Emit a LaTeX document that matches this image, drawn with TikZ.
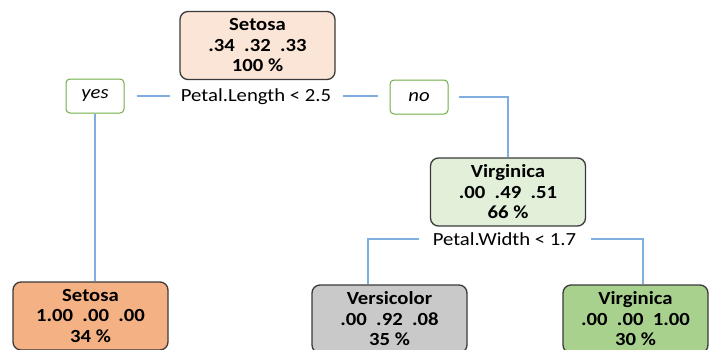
\documentclass[tikz,border=0pt]{standalone}
\usepackage{fontspec}
\setmainfont[FakeStretch=1.12]{Carlito}
\definecolor{rootfill}{HTML}{FBE5D6}
\definecolor{midfill}{HTML}{E2F0D9}
\definecolor{setfill}{HTML}{F4B183}
\definecolor{versfill}{HTML}{C9C9C9}
\definecolor{virgfill}{HTML}{A9D18E}
\definecolor{boxline}{HTML}{3A3A3A}
\definecolor{answergreen}{HTML}{70AD47}
\definecolor{edgeblue}{HTML}{7FAEE0}

\begin{document}
\begin{tikzpicture}[x=1pt,y=-1pt,
    leaf/.style={draw=boxline,line width=1.3pt,rounded corners=8pt,minimum width=155pt,minimum height=68pt,inner sep=0pt,align=center,font=\fontsize{18.5}{20.5}\selectfont\bfseries},
    answer/.style={draw=answergreen,line width=1pt,rounded corners=4pt,minimum width=58pt,minimum height=34pt,inner sep=0pt,font=\fontsize{18.5}{20}\selectfont\itshape},
    split/.style={inner sep=0pt,font=\fontsize{18.5}{20}\selectfont},
    edge/.style={draw=edgeblue,line width=1.6pt}]
    \useasboundingbox (0,0) rectangle (710,349);
    \node[leaf,fill=rootfill] (root) at (257.5,45.5) {Setosa\\.34\ \ .32\ \ .33\\100 \%};
    \node[answer] (yes) at (95,96) {yes};
    \node[split] (lenrule) at (256,97) {Petal.Length < 2.5};
    \node[answer] (no) at (419,97) {no};
    \node[leaf,fill=midfill] (mid) at (508,192) {Virginica\\.00\ \ .49\ \ .51\\66 \%};
    \node[split] (widrule) at (504.5,239) {Petal.Width < 1.7};
    \node[leaf,fill=setfill] (setosa) at (90.5,316) {Setosa\\1.00\ \ .00\ \ .00\\34 \%};
    \node[leaf,fill=versfill] (versi) at (389.5,319) {Versicolor\\.00\ \ .92\ \ .08\\35 \%};
    \node[leaf,fill=virgfill,minimum width=145pt] (virg) at (635.5,319) {Virginica\\.00\ \ .00\ \ 1.00\\30 \%};
    \draw[edge,shorten <=12pt,shorten >=11pt] (yes.east) -- (yes.east -| lenrule.west);
    \draw[edge,shorten <=12pt,shorten >=12pt] (lenrule.east |- yes.east) -- (yes.east -| no.west);
    \draw[edge,shorten <=10pt] (no.east) -| (mid.north);
    \draw[edge] (yes.south) -- (yes.south |- setosa.north);
    \draw[edge,shorten <=14pt] (widrule.west) -| ([xshift=-21.5pt]versi.north);
    \draw[edge,shorten <=15pt] (widrule.east) -| ([xshift=7.5pt]virg.north);
\end{tikzpicture}
\end{document}
